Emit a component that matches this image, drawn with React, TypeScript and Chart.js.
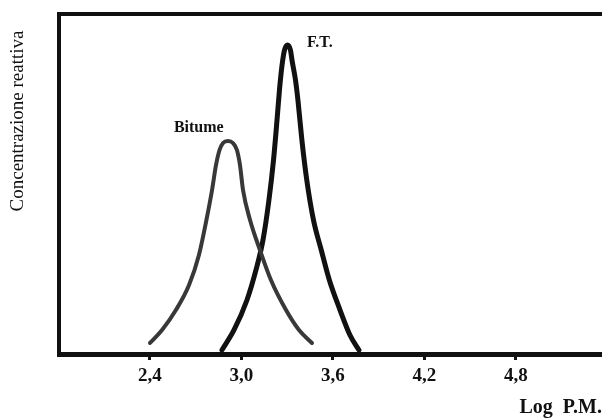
import React, { useEffect, useRef } from "react";
import { Chart, registerables } from "chart.js";

Chart.register(...registerables);

const xTicks = [2.4, 3.0, 3.6, 4.2, 4.8];
const bitumeX = [2.4, 2.479, 2.57, 2.656, 2.721, 2.77, 2.807, 2.833, 2.856, 2.879, 2.911, 2.944, 2.97, 2.99, 3.01, 3.056, 3.121, 3.193, 3.292, 3.377, 3.462];
const bitumeY = [3.24, 7.06, 12.94, 20.29, 29.12, 39.41, 48.24, 55.59, 60.0, 62.06, 62.65, 62.06, 60.0, 55.59, 48.24, 39.41, 30.59, 21.76, 12.94, 7.06, 3.24];
const ftX = [2.872, 2.951, 3.036, 3.095, 3.141, 3.18, 3.21, 3.233, 3.249, 3.266, 3.282, 3.302, 3.321, 3.331, 3.354, 3.37, 3.396, 3.428, 3.472, 3.523, 3.576, 3.646, 3.711, 3.77];
const ftY = [1.18, 7.06, 15.88, 24.71, 33.53, 45.29, 57.06, 68.82, 77.65, 85.0, 89.41, 90.88, 89.41, 86.47, 80.59, 74.71, 62.94, 51.18, 39.41, 30.59, 21.76, 12.94, 5.59, 1.18];
const seriesLabels = ["Bitume", "F.T."];
const labelPos = [
  { x: 2.72, y: 66.5, align: "center" },
  { x: 3.43, y: 91.5, align: "left" },
];
const yTitle = "Concentrazione reattiva";
const xTitle = "Log  P.M.";

const SERIF = '"Liberation Serif", "Times New Roman", serif';

export default function App() {
  const ref = useRef<HTMLCanvasElement | null>(null);
  useEffect(() => {
    if (!ref.current) return;
    const annot = {
      id: "annot",
      afterDraw(chart: any) {
        const { ctx, chartArea, scales } = chart;
        ctx.save();
        ctx.strokeStyle = "#111";
        ctx.lineWidth = 4;
        ctx.beginPath();
        ctx.moveTo(chartArea.left - 2, chartArea.top);
        ctx.lineTo(chartArea.right, chartArea.top);
        ctx.stroke();
        ctx.fillStyle = "#111";
        ctx.font = `bold 16px ${SERIF}`;
        ctx.textBaseline = "middle";
        seriesLabels.forEach((t, i) => {
          ctx.textAlign = labelPos[i].align as CanvasTextAlign;
          ctx.fillText(t, scales.x.getPixelForValue(labelPos[i].x), scales.y.getPixelForValue(labelPos[i].y));
        });
        ctx.font = `19px ${SERIF}`;
        ctx.textAlign = "center";
        ctx.translate(18, 121);
        ctx.rotate(-Math.PI / 2);
        ctx.fillText(yTitle, 0, 0);
        ctx.restore();
      },
    };
    const chart = new Chart(ref.current, {
      type: "line",
      data: {
        datasets: [
          {
            label: seriesLabels[0],
            data: bitumeX.map((x, i) => ({ x, y: bitumeY[i] })),
            borderColor: "#383838",
            borderWidth: 4,
            pointRadius: 0,
            cubicInterpolationMode: "monotone",
            borderCapStyle: "round",
            borderJoinStyle: "round",
            fill: false,
          },
          {
            label: seriesLabels[1],
            data: ftX.map((x, i) => ({ x, y: ftY[i] })),
            borderColor: "#111",
            borderWidth: 5,
            pointRadius: 0,
            cubicInterpolationMode: "monotone",
            borderCapStyle: "round",
            borderJoinStyle: "round",
            fill: false,
          },
        ],
      },
      options: {
        animation: false,
        responsive: false,
        layout: { padding: { top: 14, right: 0, bottom: 0, left: 0 } },
        plugins: { legend: { display: false }, tooltip: { enabled: false } },
        scales: {
          x: {
            type: "linear",
            min: 1.8033,
            max: 5.364,
            afterFit: (s: any) => { s.height = 64; },
            afterBuildTicks: (s: any) => { s.ticks = xTicks.map((v) => ({ value: v })); },
            border: { display: true, width: 5, color: "#111" },
            grid: { display: true, drawOnChartArea: false, drawTicks: true, tickLength: 6, tickWidth: 3, tickColor: "#111", color: "#111" },
            ticks: {
              padding: 5,
              color: "#111",
              font: { family: SERIF, size: 19, weight: "bold" },
              maxRotation: 0,
              autoSkip: false,
              callback: (v: any) => Number(v).toFixed(1).replace(".", ","),
            },
            title: {
              display: true,
              text: xTitle,
              align: "end",
              color: "#111",
              font: { family: SERIF, size: 20, weight: "bold", lineHeight: 1.0 },
              padding: { top: 0, bottom: 0 },
            },
          },
          y: {
            type: "linear",
            min: 0,
            max: 100,
            afterFit: (s: any) => { s.width = 59; },
            border: { display: true, width: 4, color: "#111" },
            grid: { display: true, drawOnChartArea: false, drawTicks: false },
            ticks: { display: false },
          },
        },
      },
      plugins: [annot],
    });
    return () => chart.destroy();
  }, []);
  return (
    <div style={{ position: "absolute", left: 0, top: 0, width: 602, height: 418, background: "#fff" }}>
      <canvas ref={ref} width={602} height={418} style={{ display: "block" }} />
    </div>
  );
}
